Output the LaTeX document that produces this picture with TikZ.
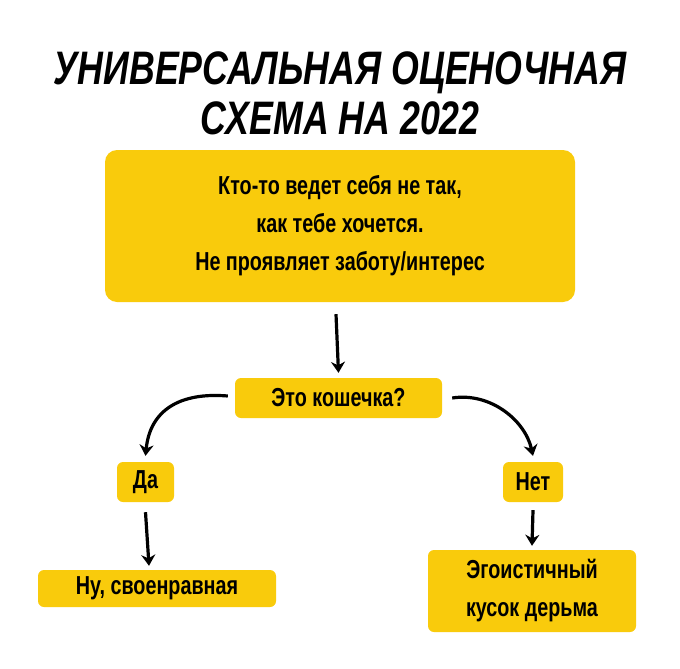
\documentclass[tikz,border=0pt]{standalone}
\usepackage{fontspec}
\setmainfont{Liberation Sans}[FakeStretch=0.76]
\usetikzlibrary{arrows.meta}
\definecolor{ylw}{HTML}{F9CB0C}
\tikzset{
 box/.style={fill=ylw,rounded corners=6pt,inner sep=0pt,align=center,font=\fontsize{26}{38}\selectfont\bfseries},
 arr/.style={line width=3.2pt,-{Stealth[length=11pt,width=14pt]}},
}
\begin{document}
\begin{tikzpicture}[x=1pt,y=1pt]
\useasboundingbox (0,0) rectangle (680,-669);
\node[font=\fontsize{47}{50}\selectfont\bfseries\itshape,align=center] (t) at (340,-93) {УНИВЕРСАЛЬНАЯ ОЦЕНОЧНАЯ\\СХЕМА НА 2022};
\node[box,rounded corners=12pt,minimum width=470pt,minimum height=152pt] (a) at (340,-226) {Кто-то ведет себя не так,\\как тебе хочется.\\Не проявляет заботу/интерес};
\node[box,minimum width=207pt,minimum height=40pt] (q) at (338.5,-398) {Это кошечка?};
\node[box,minimum width=57pt,minimum height=40pt] (y) at (145.5,-482) {Да};
\node[box,minimum width=60pt,minimum height=40pt] (n) at (533,-482) {Нет};
\node[box,minimum width=238pt,minimum height=37pt] (yr) at (157,-588.5) {Ну, своенравная};
\node[box,minimum width=208pt,minimum height=82pt] (nr) at (532,-591) {Эгоистичный\\кусок дерьма};
\draw[arr] ([xshift=-4pt,yshift=-12pt]a.south) -- ([yshift=5pt]q.north);
\draw[arr] ([xshift=-7pt,yshift=2pt]q.west) .. controls (180,-392) and (150,-410) .. ([yshift=6pt]y.north);
\draw[arr] ([xshift=10pt]q.east) .. controls (490,-392) and (525,-420) .. ([yshift=6pt]n.north);
\draw[arr] ([yshift=-10pt]y.south) -- ([xshift=-8pt,yshift=4pt]yr.north);
\draw[arr] ([yshift=-8pt]n.south) -- ([yshift=4pt]nr.north);
\end{tikzpicture}
\end{document}
